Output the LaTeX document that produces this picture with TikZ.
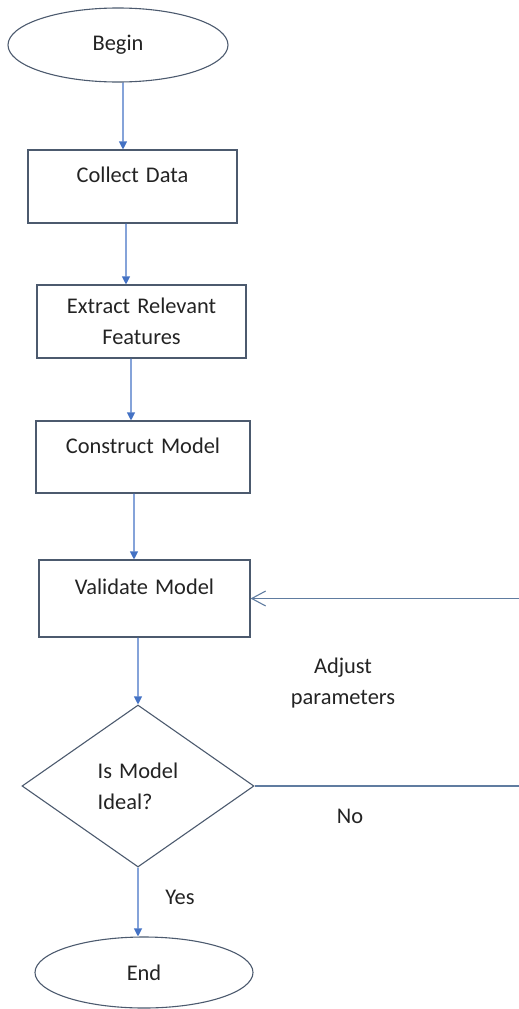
\documentclass[tikz,border=0pt]{standalone}
\usepackage{fontspec}
\setmainfont{Carlito}[WordSpace={1.4,1,1}]
\usetikzlibrary{shapes.geometric,arrows.meta}
\definecolor{edgecol}{RGB}{76,90,110}
\definecolor{flowcol}{RGB}{68,114,196}
\definecolor{backcol}{RGB}{96,124,160}
\definecolor{txtcol}{RGB}{35,35,35}
\begin{document}
\begin{tikzpicture}[x=1bp,y=-1bp,
  font=\fontsize{22.5}{31}\selectfont, text=txtcol,
  terminal/.style={ellipse,draw=edgecol,line width=1.1bp,inner sep=0pt},
  stepbox/.style={rectangle,draw=edgecol,line width=1.1bp,align=center,inner sep=0pt},
  toptext/.style={text height=16bp,text depth=24bp},
  choice/.style={diamond,draw=edgecol,line width=1.1bp,align=left,inner sep=0pt},
  flow/.style={draw=flowcol,line width=1.1bp,-{Triangle[width=8bp,length=8bp]}},
  back/.style={draw=backcol,line width=1.1bp}]
\useasboundingbox (0,0) rectangle (519,1009);
\node[terminal,minimum width=220bp,minimum height=74bp] (begin) at (118,45) {Begin};
\node[stepbox,toptext,minimum width=209bp,minimum height=73bp] (collect) at (132.5,186.5) {Collect Data};
\node[stepbox,minimum width=209bp,minimum height=73bp] (extract) at (141.5,321.5) {Extract Relevant\\Features};
\node[stepbox,toptext,minimum width=214bp,minimum height=72bp] (construct) at (143,457) {Construct Model};
\node[stepbox,toptext,minimum width=211bp,minimum height=77bp] (validate) at (144.5,598.5) {Validate Model};
\node[choice,minimum width=232bp,minimum height=162bp] (decide) at (138,786) {Is Model\\Ideal?};
\node[terminal,minimum width=218bp,minimum height=71bp] (end) at (144,972.5) {End};
\coordinate (adjust-in) at (519,598.5);
\coordinate (no-out) at (519,786);

\draw[flow] ([xshift=5bp]begin.south) -- ([xshift=-9.5bp]collect.north);
\draw[flow] ([xshift=-6.5bp]collect.south) -- ([xshift=-15.5bp]extract.north);
\draw[flow] ([xshift=-10.5bp]extract.south) -- ([xshift=-12bp]construct.north);
\draw[flow] ([xshift=-9bp]construct.south) -- ([xshift=-10.5bp]validate.north);
\draw[flow] ([xshift=-6.5bp]validate.south) -- (decide.north);
\draw[flow] (decide.south) -- ([xshift=-6bp]end.north);
\draw[back] (decide.east) -- (no-out);
\draw[back,-{Straight Barb[length=14bp,width=15bp]}] (adjust-in) -- (validate.east);

\node[align=center] (adjust) at (343,683) {Adjust\\parameters};
\node (no) at (350,816) {No};
\node (yes) at (180,897) {Yes};
\end{tikzpicture}
\end{document}
